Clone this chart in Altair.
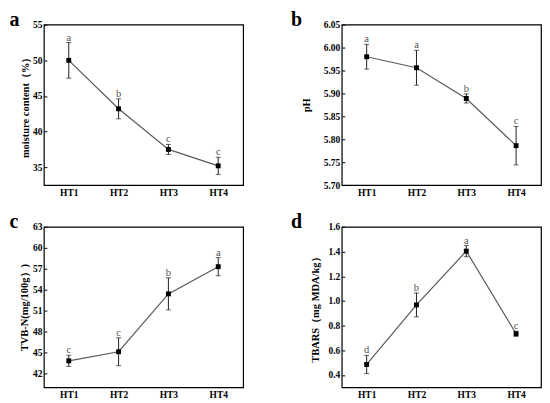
import altair as alt
import pandas as pd

SERIF = "Liberation Serif"

cats = ["HT1", "HT2", "HT3", "HT4"]

moist_mean = [50.0, 43.2, 37.5, 35.2]
moist_err = [2.5, 1.4, 0.7, 1.2]
moist_sig = ["a", "b", "c", "c"]

ph_mean = [5.980, 5.956, 5.889, 5.786]
ph_err = [0.027, 0.038, 0.010, 0.042]
ph_sig = ["a", "a", "b", "c"]

tvbn_mean = [43.8, 45.1, 53.4, 57.3]
tvbn_err = [0.8, 2.0, 2.3, 1.3]
tvbn_sig = ["c", "c", "b", "a"]

tbars_mean = [0.485, 0.968, 1.404, 0.734]
tbars_err = [0.074, 0.097, 0.045, 0.020]
tbars_sig = ["d", "b", "a", "c"]


def panel(mean, err, sig, ytitle, domain, ticks, fmt, label, label_dx, title_pad):
    df = pd.DataFrame({
        "cat": cats,
        "mean": mean,
        "lo": [m - e for m, e in zip(mean, err)],
        "hi": [m + e for m, e in zip(mean, err)],
        "sig": sig,
    })
    xaxis = alt.Axis(title=None, labelAngle=0, ticks=False, domain=False, grid=False,
                     labelPadding=2, labelFont=SERIF, labelFontWeight="bold",
                     labelFontSize=9.5, labelColor="black")
    x = alt.X("cat:N", sort=cats, scale=alt.Scale(type="point", padding=0.5), axis=xaxis)
    yscale = alt.Scale(domain=domain, nice=False, zero=False)
    yaxis = alt.Axis(title=ytitle, values=ticks, format=fmt, offset=-3, tickSize=3,
                     tickColor="black", domain=False, grid=False, labelPadding=2,
                     labelFont=SERIF, labelFontWeight="bold", labelFontSize=9.5,
                     labelColor="black", titleFont=SERIF, titleFontWeight="bold",
                     titleFontSize=10.5, titleColor="black", titlePadding=title_pad)
    base = alt.Chart(df)
    line = base.mark_line(color="#5a5a5a", strokeWidth=1.2).encode(
        x=x, y=alt.Y("mean:Q", scale=yscale, axis=yaxis))
    rule = base.mark_rule(color="#222222", strokeWidth=1).encode(
        x=x, y=alt.Y("lo:Q", scale=yscale, axis=yaxis), y2="hi:Q")
    cap_lo = base.mark_tick(orient="horizontal", size=5, thickness=1, color="#222222").encode(
        x=x, y=alt.Y("lo:Q", scale=yscale, axis=yaxis))
    cap_hi = base.mark_tick(orient="horizontal", size=5, thickness=1, color="#222222").encode(
        x=x, y=alt.Y("hi:Q", scale=yscale, axis=yaxis))
    pts = base.mark_point(shape="square", filled=True, size=24, color="black", opacity=1).encode(
        x=x, y=alt.Y("mean:Q", scale=yscale, axis=yaxis))
    txt = base.mark_text(dy=-2, baseline="alphabetic", font=SERIF, fontSize=10.5,
                         color="#555555").encode(
        x=x, y=alt.Y("hi:Q", scale=yscale, axis=yaxis), text="sig:N")
    return alt.layer(line, rule, cap_lo, cap_hi, pts, txt).properties(
        width=200, height=161,
        title=alt.TitleParams(text=label, anchor="start", frame="group", dx=label_dx,
                              dy=12, offset=2, fontSize=20, font=SERIF, fontWeight="bold",
                              color="black"))


pa = panel(moist_mean, moist_err, moist_sig, "moisture content（%）", [32.5, 55],
           [35, 40, 45, 50, 55], "d", "a", -34.5, 2)
pb = panel(ph_mean, ph_err, ph_sig, "pH", [5.70, 6.05],
           [5.70, 5.75, 5.80, 5.85, 5.90, 5.95, 6.00, 6.05], ".2f", "b", -51, 12)
pc = panel(tvbn_mean, tvbn_err, tvbn_sig, "TVB-N(mg/100g）)", [40, 63],
           [42, 45, 48, 51, 54, 57, 60, 63], "d", "c", -34.5, 3)
pd_ = panel(tbars_mean, tbars_err, tbars_sig, "TBARS（mg MDA/kg）", [0.3, 1.6],
            [0.4, 0.6, 0.8, 1.0, 1.2, 1.4, 1.6], ".1f", "d", -51, 7)

chart = alt.concat(pa, pb, pc, pd_, columns=2, spacing={"row": 42, "column": 99},
                   bounds="flush").properties(
    padding={"left": 0, "top": 0, "right": 0, "bottom": 0},
    background="white",
).configure_view(stroke="black", strokeWidth=1.2, fill="white")

chart.save("out.html", embed_options={"renderer": "svg", "actions": False})
